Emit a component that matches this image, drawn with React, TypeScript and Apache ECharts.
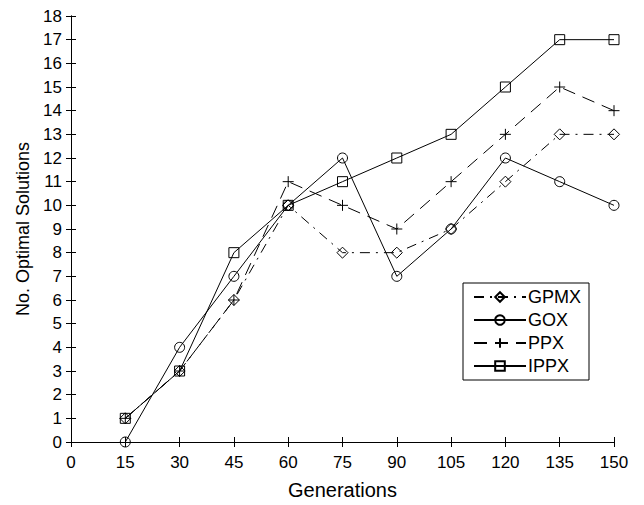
import React, { useEffect, useRef } from "react";
import * as echarts from "echarts";

const generations = [15, 30, 45, 60, 75, 90, 105, 120, 135, 150];
const gpmx = [1, 3, 6, 10, 8, 8, 9, 11, 13, 13];
const gox = [0, 4, 7, 10, 12, 7, 9, 12, 11, 10];
const ppx = [1, 3, 6, 11, 10, 9, 11, 13, 15, 14];
const ippx = [1, 3, 8, 10, 11, 12, 13, 15, 17, 17];

const FONT = "'Liberation Sans', Arial, Helvetica, sans-serif";
const PLUS = "path://M0,5L10,5M5,0L5,10";

export default function App() {
  const ref = useRef<HTMLDivElement>(null);
  useEffect(() => {
    if (!ref.current) return;
    const chart = echarts.init(ref.current, null, { renderer: "svg" });
    const pair = (ys: number[]) => generations.map((x, i) => [x, ys[i]]);
    const base = (name: string, ys: number[], symbol: string, size: number, lineType: any) => ({
      name,
      type: "line",
      data: pair(ys),
      symbol,
      symbolSize: size,
      showSymbol: true,
      lineStyle: { color: "#000", width: 1, type: lineType },
      itemStyle: { color: "rgba(0,0,0,0)", borderColor: "#000", borderWidth: 1 },
      emphasis: { disabled: true },
      z: 3,
    });
    const axisCommon = {
      type: "value",
      axisLine: { show: true, lineStyle: { color: "#000", width: 1 } },
      axisTick: { show: true, inside: true, length: 5, lineStyle: { color: "#000" } },
      splitLine: { show: false },
    };
    chart.setOption({
      animation: false,
      backgroundColor: "#fff",
      textStyle: { fontFamily: FONT },
      grid: { left: 71, right: 30, top: 16, bottom: 62 },
      xAxis: [
        {
          ...axisCommon,
          min: 0,
          max: 150,
          interval: 15,
          name: "Generations",
          nameLocation: "middle",
          nameGap: 38,
          nameTextStyle: { fontSize: 20, color: "#000", fontFamily: FONT },
          axisLabel: { fontSize: 17, color: "#000", margin: 12, fontFamily: FONT },
        },
        {
          ...axisCommon,
          position: "top",
          min: 0,
          max: 150,
          interval: 15,
          axisLabel: { show: false },
        },
      ],
      yAxis: [
        {
          ...axisCommon,
          min: 0,
          max: 18,
          interval: 1,
          name: "No. Optimal Solutions",
          nameLocation: "middle",
          nameGap: 36,
          nameTextStyle: { fontSize: 18, color: "#000", fontFamily: FONT },
          axisLabel: { fontSize: 17, color: "#000", margin: 9, fontFamily: FONT },
        },
        {
          ...axisCommon,
          position: "right",
          min: 0,
          max: 18,
          interval: 1,
          axisLabel: { show: false },
        },
      ],
      legend: {
        orient: "vertical",
        left: 463,
        top: 283,
        padding: [5, 8, 5, 10],
        itemWidth: 52,
        itemHeight: 12,
        itemGap: 5,
        borderColor: "#000",
        borderWidth: 1,
        backgroundColor: "#fff",
        selectedMode: false,
        textStyle: { fontSize: 18, color: "#000", fontFamily: FONT, padding: [0, 0, 0, -3] },
        data: ["GPMX", "GOX", "PPX", "IPPX"],
      },
      series: [
        base("GPMX", gpmx, "diamond", 11, [10, 6, 2, 6]),
        base("GOX", gox, "circle", 10, "solid"),
        { ...base("PPX", ppx, PLUS, 11, [13, 8]), itemStyle: { color: "#000", borderColor: "#000", borderWidth: 1 } },
        base("IPPX", ippx, "rect", 10, "solid"),
      ],
    });
    return () => chart.dispose();
  }, []);
  return (
    <div
      ref={ref}
      style={{ position: "fixed", left: 0, top: 0, width: 644, height: 505 }}
    />
  );
}
